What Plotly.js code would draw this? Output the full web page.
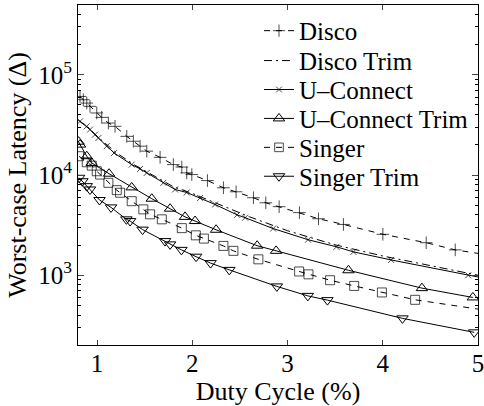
<!DOCTYPE html>
<html><head><meta charset="utf-8">
<script src="https://cdn.plot.ly/plotly-3.0.1.min.js"></script>
<style>body{margin:0;background:#fff;}#chart{width:484px;height:406px;}</style>
</head><body><div id="chart"></div>
<script>
// Duty cycle (%) and worst-case latency values
const discoX = [0.821,0.856,0.892,0.926,0.997,1.049,1.119,1.189,1.312,1.381,1.452,1.522,1.662,1.801,1.890,1.942,1.995,2.159,2.327,2.460,2.642,2.772,2.912,3.125,3.325,3.587,4.001,4.456,4.761,5.0];
const discoY = [60800,56400,52200,48400,41600,37600,33000,30600,24300,21700,19400,17300,15000,12700,12000,10500,10100,8800,7460,6800,5930,5280,4830,4210,3660,3210,2560,2110,1790,1650];

const discoTrimX = [0.8,0.9,1.0,1.2,1.4,1.6,1.8,2.0,2.3,2.6,3.0,3.5,4.0,4.5,5.0];
const discoTrimY = [35500,30300,24400,16700,12500,9750,7650,6550,5050,3830,2780,2010,1555,1240,1000];

const uconX = [0.821,0.892,0.926,0.979,1.014,1.102,1.179,1.364,1.452,1.522,1.696,1.819,1.942,2.082,2.239,2.471,2.555,2.849,3.216,3.514,3.692,4.088,4.897,5.0];
const uconY = [34300,30600,28400,25300,23400,19400,16600,12700,11500,10500,8360,7170,6690,5900,5080,4000,3750,2920,2260,1920,1710,1420,998,960];

const uconTrimX = [0.806,0.821,0.892,0.944,1.126,1.364,1.575,1.767,1.924,2.029,2.250,2.681,2.880,3.640,4.411,4.946];
const uconTrimY = [21500,20100,15400,13200,10300,7520,5800,4610,3820,3470,2840,1970,1750,1120,743,600];

const singerX = [0.811,0.892,0.944,0.997,1.032,1.119,1.207,1.242,1.364,1.486,1.557,1.680,1.890,2.037,2.122,2.327,2.432,2.694,3.122,3.220,3.447,3.700,3.991,4.340,5.0];
const singerY = [15400,13400,12400,10900,10100,8360,7060,6650,5480,4540,4050,3610,2950,2500,2320,1960,1750,1440,1090,1020,891,782,673,568,459];

const singerTrimX = [0.811,0.846,0.892,0.926,1.026,1.147,1.308,1.347,1.478,1.714,1.767,1.886,2.040,2.192,2.389,2.888,3.213,3.419,4.207,4.960];
const singerTrimY = [9380,8670,7740,7170,5630,4750,3610,3470,2850,2190,2030,1790,1530,1320,1130,773,622,564,371,269];

const seriesNames = ['Disco','Disco Trim','U\u2013Connect','U\u2013Connect Trim','Singer','Singer Trim'];
const yTickVals = [1e3,1e4,1e5];
const yTickText = ['10<sup>3</sup>','10<sup>4</sup>','10<sup>5</sup>'];
const xTickVals = [1,2,3,4,5];

const FONT = 'Liberation Serif, Times New Roman, serif';
function sizes(xs, s){ return xs.map(v => v >= 4.999 ? 0 : s); }
const lineBase = {color:'#000', width:1};
const mk = (sym, size) => ({symbol:sym, size:size, line:{color:'#000', width:1}, color:'#000'});

const traces = [
  {x:discoX, y:discoY, name:seriesNames[0], legend:'legend', mode:'lines+markers',
   line:Object.assign({dash:'6px,6px'}, lineBase), marker:mk('cross-thin-open', sizes(discoX,9))},
  {x:discoTrimX, y:discoTrimY, name:seriesNames[1], legend:'legend2', mode:'lines',
   line:Object.assign({dash:'8px,4px,2px,4px'}, lineBase)},
  {x:uconX, y:uconY, name:seriesNames[2], legend:'legend3', mode:'lines+markers',
   line:lineBase, marker:mk('x-thin-open', sizes(uconX,6))},
  {x:uconTrimX, y:uconTrimY, name:seriesNames[3], legend:'legend4', mode:'lines+markers',
   line:lineBase, marker:mk('triangle-up-open', 10)},
  {x:singerX, y:singerY, name:seriesNames[4], legend:'legend5', mode:'lines+markers',
   line:Object.assign({dash:'6px,6px'}, lineBase), marker:mk('square-open', sizes(singerX,9))},
  {x:singerTrimX, y:singerTrimY, name:seriesNames[5], legend:'legend6', mode:'lines+markers',
   line:lineBase, marker:mk('triangle-down-open', 10)}
];

const minorVals = [];
for (let e = 2; e <= 5; e++) for (let m = 2; m <= 9; m++) minorVals.push(m * Math.pow(10, e));

// one legend box per entry so the row spacing can match the reference
const legendRowY = [0.9238, 0.8358, 0.7507, 0.6657, 0.5806, 0.4956];
function legendBox(y){
  return {x:0.4525, y:y, xanchor:'left', yanchor:'middle', bgcolor:'rgba(0,0,0,0)', borderwidth:0,
          font:{family:FONT, size:25, color:'#000'}, itemwidth:30};
}

const layout = {
  width:484, height:406,
  margin:{l:78, r:6, t:5, b:61},
  paper_bgcolor:'#fff', plot_bgcolor:'#fff',
  font:{family:FONT, color:'#000', size:22},
  showlegend:true,
  legend:legendBox(legendRowY[0]),
  legend2:legendBox(legendRowY[1]),
  legend3:legendBox(legendRowY[2]),
  legend4:legendBox(legendRowY[3]),
  legend5:legendBox(legendRowY[4]),
  legend6:legendBox(legendRowY[5]),
  xaxis:{range:[0.8,5], tickmode:'array', tickvals:xTickVals, ticks:'inside', ticklen:5,
         showline:true, linecolor:'#000', linewidth:1, mirror:'allticks', showgrid:false, zeroline:false,
         ticklabelstandoff:-4, ticklabeloverflow:'allow',
         tickfont:{family:FONT, size:25, color:'#000'},
         title:{text:'Duty Cycle (%)', font:{family:FONT, size:26, color:'#000'}, standoff:0}},
  yaxis:{type:'log', range:[2.3035,5.6965], tickmode:'array', tickvals:yTickVals, ticktext:yTickText,
         ticks:'inside', ticklen:6, showline:true, linecolor:'#000', linewidth:1, mirror:'allticks',
         showgrid:false, zeroline:false,
         tickfont:{family:FONT, size:25, color:'#000'},
         minor:{tickmode:'array', tickvals:minorVals, ticks:'inside', ticklen:3, tickcolor:'#000', showgrid:false},
         title:{text:'Worst-case Latency (\u0394)', font:{family:FONT, size:26, color:'#000'}, standoff:4}}
};

Plotly.newPlot('chart', traces, layout, {displayModeBar:false, staticPlot:true});
</script>
</body></html>
